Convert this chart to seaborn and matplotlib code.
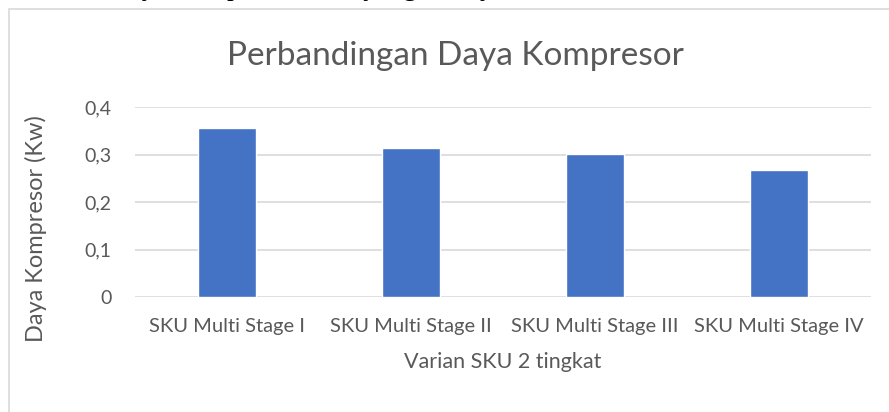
import pandas as pd
import numpy as np
import seaborn as sns
import matplotlib.pyplot as plt
from matplotlib.patches import Rectangle
from matplotlib.ticker import FuncFormatter

# Data
varian = ['SKU Multi Stage I', 'SKU Multi Stage II', 'SKU Multi Stage III', 'SKU Multi Stage IV']
daya = [0.356, 0.314, 0.302, 0.269]
y_ticks = [0, 0.1, 0.2, 0.3, 0.4]

df = pd.DataFrame({'Varian': varian, 'Daya': daya})

sns.set_theme(style='white')
plt.rcParams['font.family'] = ['Lato', 'DejaVu Sans']

fig = plt.figure(figsize=(8.89, 4.12), dpi=100)

# chart frame (document screenshot, border cut at right/bottom)
fig.patches.append(Rectangle((8.5 / 889, -0.1), 1.2, 1.1 - 9.5 / 412,
                             transform=fig.transFigure, fill=False,
                             edgecolor='#D9D9D9', linewidth=1.2, zorder=0))
# line of document text above the chart, cut off by the screenshot
fig.text(215 / 889, 1 + 5 / 412, 'sebelumnya dan', family=['Liberation Serif'],
         fontsize=20, color='black', va='baseline', ha='right')
fig.text(227 / 889, 1 + 5 / 412, 'pada varian yang lainnya.', family=['Liberation Serif'],
         fontsize=20, color='black', va='baseline', ha='left')

ax = fig.add_axes([135 / 889, 1 - 297.3 / 412, 736 / 889, 190 / 412])
sns.barplot(data=df, x='Varian', y='Daya', color='#4472C4', width=0.31,
            saturation=1, ax=ax, zorder=3)

ax.set_ylim(0, 0.4)
ax.set_yticks(y_ticks)
ax.yaxis.set_major_formatter(FuncFormatter(lambda v, p: '0' if v == 0 else f'{v:.1f}'.replace('.', ',')))
ax.grid(axis='y', color='#D9D9D9', linewidth=1.2, zorder=0)
for s in ax.spines.values():
    s.set_visible(False)
ax.tick_params(axis='x', length=0, labelsize=14.5, colors='#595959', pad=15)
ax.tick_params(axis='y', length=0, labelsize=14, colors='#595959', pad=17)

ax.set_xlabel('Varian SKU 2 tingkat', fontsize=15.5, color='#595959', labelpad=12)
ax.set_ylabel('')
fig.text(36 / 889, 1 - 229 / 412, 'Daya Kompresor (Kw)', fontsize=17, rotation=90,
         color='#595959', ha='center', va='center')
fig.text(455 / 889, 1 - 56 / 412, 'Perbandingan Daya Kompresor', fontsize=24,
         color='#595959', ha='center', va='center')

fig.savefig('out.png', dpi=100)
